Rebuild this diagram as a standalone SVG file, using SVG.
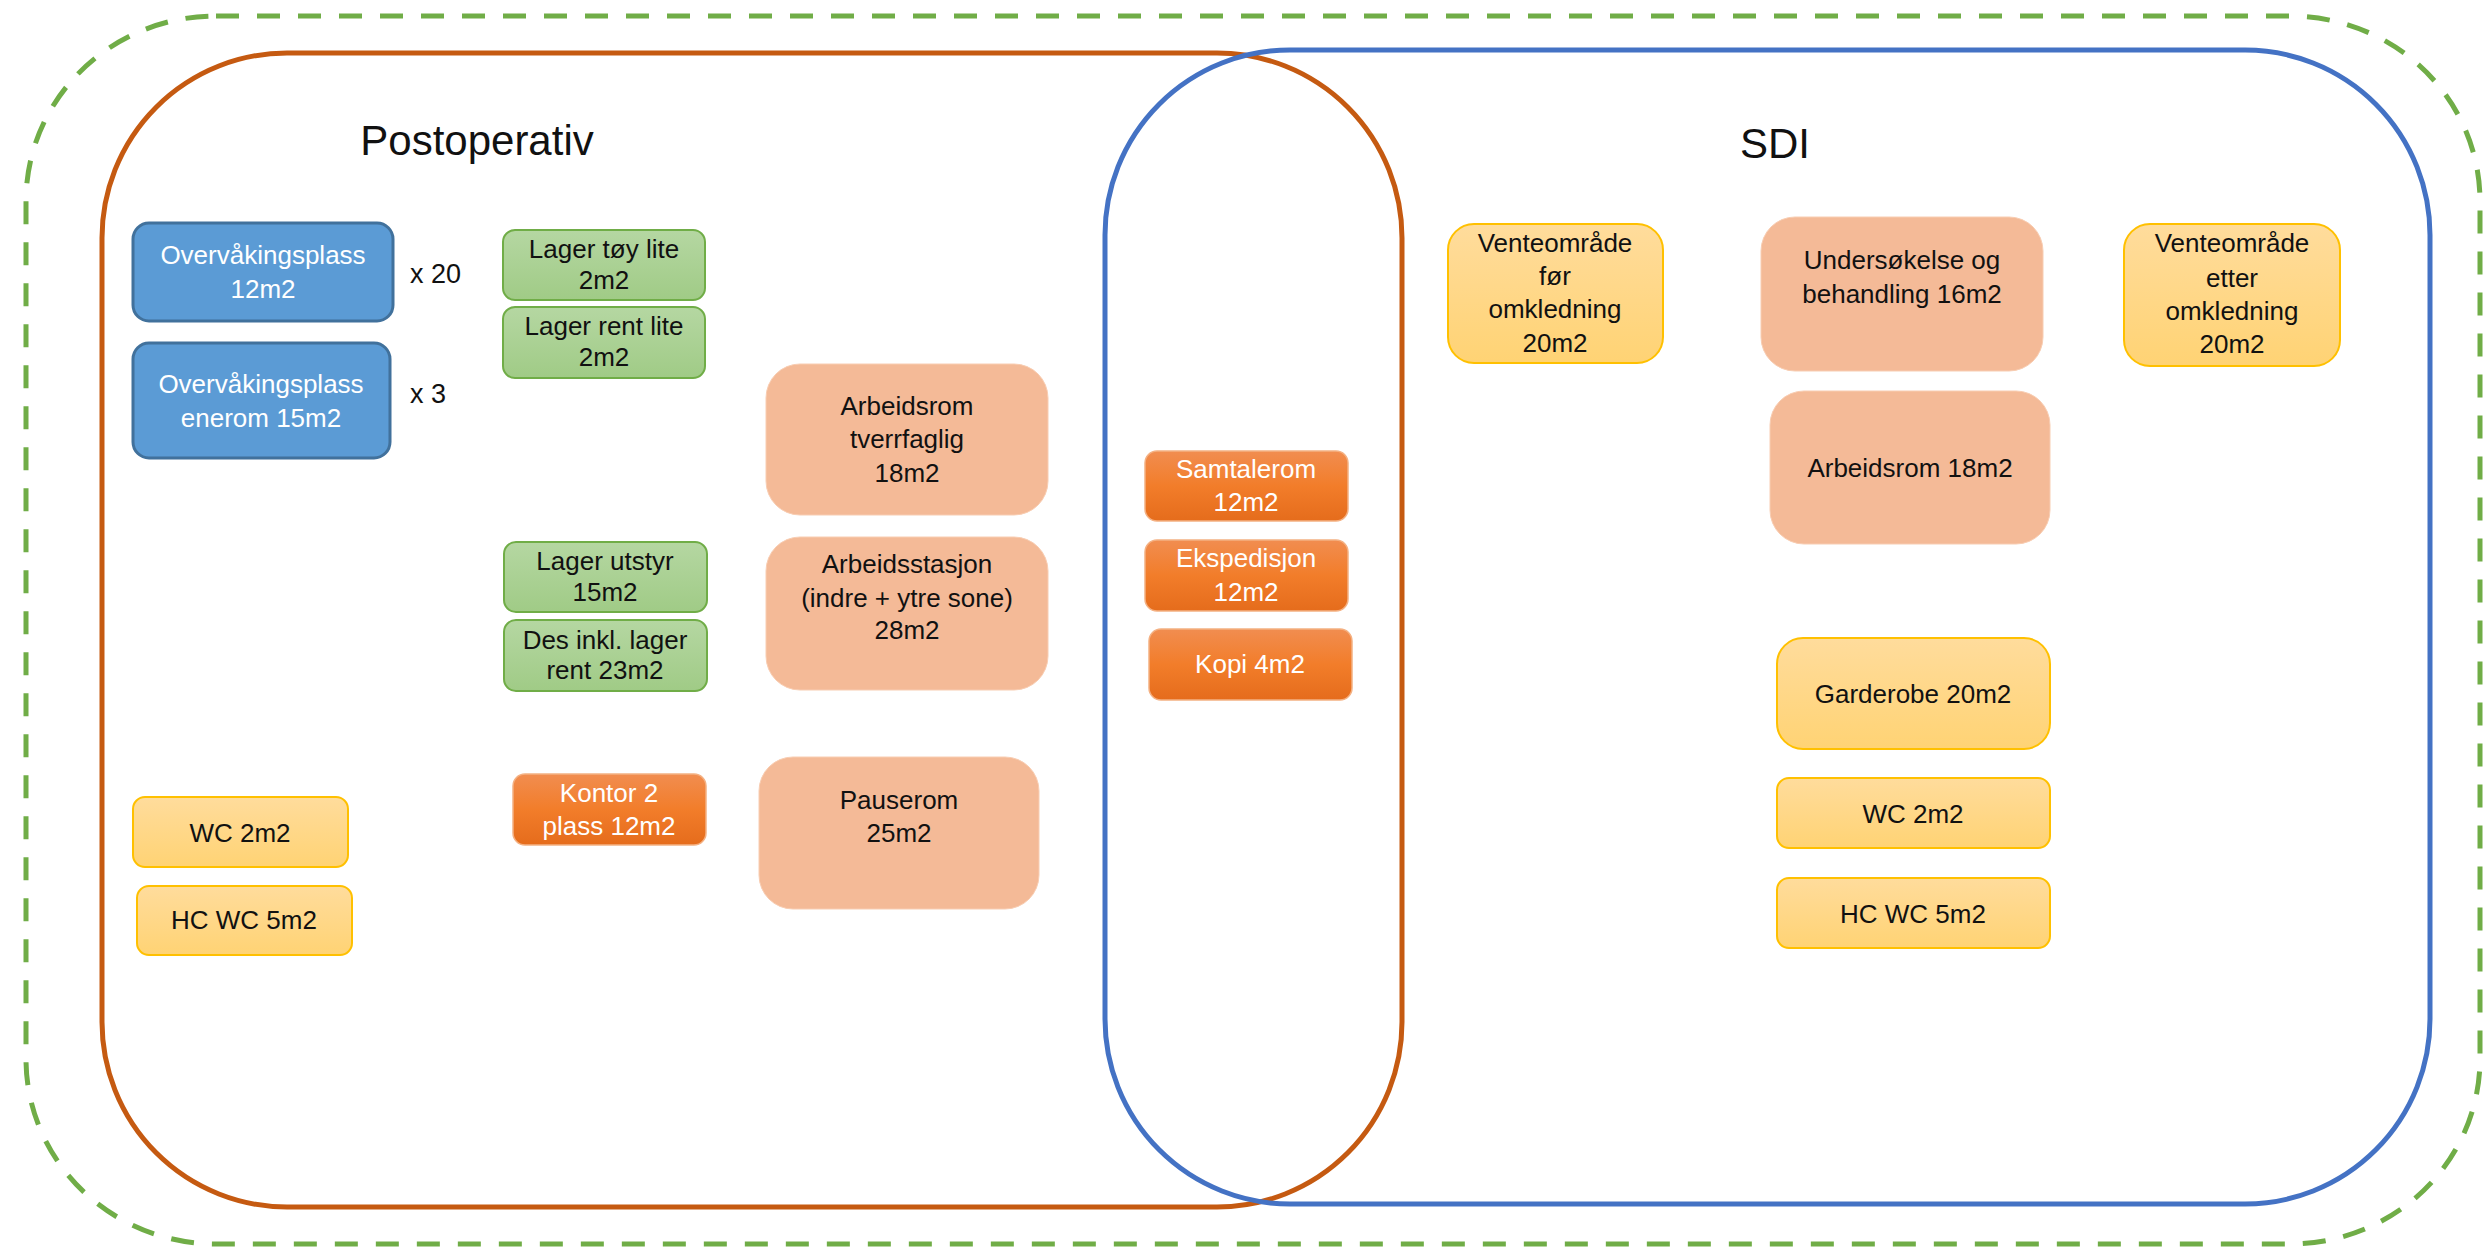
<svg xmlns="http://www.w3.org/2000/svg" width="2484" height="1247" viewBox="0 0 2484 1247">
<defs>
<linearGradient id="gYellow" x1="0" y1="0" x2="0" y2="1"><stop offset="0" stop-color="#FFDC9C"/><stop offset="1" stop-color="#FFD374"/></linearGradient>
<linearGradient id="gGreen" x1="0" y1="0" x2="0" y2="1"><stop offset="0" stop-color="#B5D7A2"/><stop offset="1" stop-color="#A0CB86"/></linearGradient>
<linearGradient id="gOrange" x1="0" y1="0" x2="0" y2="1"><stop offset="0" stop-color="#F18D50"/><stop offset="0.5" stop-color="#F27D2A"/><stop offset="1" stop-color="#E56C1C"/></linearGradient>
<style>
text{font-family:"Liberation Sans",Arial,sans-serif;font-size:26px;text-anchor:middle;fill:#111}
.title{font-size:42px}
.white{fill:#fff}
.left{text-anchor:start}
.blue{fill:#5B9BD5;stroke:#41719C;stroke-width:3}
.green{fill:url(#gGreen);stroke:#70AD47;stroke-width:2}
.yellow{fill:url(#gYellow);stroke:#FFC000;stroke-width:2}
.orange{fill:url(#gOrange);stroke:#F4B183;stroke-width:1.5}
.salmon{fill:#F4BA97;stroke:#F8CDB2;stroke-width:1}
.zone{fill:none;stroke-width:5}
</style>
</defs>
<rect width="2484" height="1247" fill="#fff"/>
<g id="zones">
<rect id="outer" class="zone" x="26" y="16" width="2454" height="1228" rx="190" ry="185" stroke="#70AD47" stroke-dasharray="23 18"/>
<rect id="postoperativ-zone" class="zone" x="102" y="53" width="1300" height="1154" rx="185" ry="185" stroke="#C55A11"/>
<rect id="sdi-zone" class="zone" x="1105" y="50" width="1325" height="1154" rx="185" ry="185" stroke="#4472C4"/>
<text class="title" x="477" y="155">Postoperativ</text>
<text class="title" x="1775" y="158">SDI</text>
</g>
<g id="connectors"></g>
<g id="n-overvak"><rect class="blue" x="133" y="223" width="260" height="98" rx="16"/><text class="white" x="263" y="264">Overvåkingsplass</text><text class="white" x="263" y="298">12m2</text></g>
<g id="n-x20"><text class="left" x="410" y="283" style="font-size:27px">x 20</text></g>
<g id="n-overvak-enerom"><rect class="blue" x="133" y="343" width="257" height="115" rx="16"/><text class="white" x="261" y="393">Overvåkingsplass</text><text class="white" x="261" y="427">enerom 15m2</text></g>
<g id="n-x3"><text class="left" x="410" y="403" style="font-size:27px">x 3</text></g>
<g id="n-lager-toy"><rect class="green" x="503" y="230" width="202" height="70" rx="12"/><text x="604" y="258">Lager tøy lite</text><text x="604" y="289">2m2</text></g>
<g id="n-lager-rent"><rect class="green" x="503" y="307" width="202" height="71" rx="12"/><text x="604" y="335">Lager rent lite</text><text x="604" y="366">2m2</text></g>
<g id="n-lager-utstyr"><rect class="green" x="504" y="542" width="203" height="70" rx="12"/><text x="605" y="570">Lager utstyr</text><text x="605" y="601">15m2</text></g>
<g id="n-des"><rect class="green" x="504" y="620" width="203" height="71" rx="12"/><text x="605" y="649">Des inkl. lager</text><text x="605" y="679">rent 23m2</text></g>
<g id="n-kontor"><rect class="orange" x="513" y="774" width="193" height="71" rx="12"/><text class="white" x="609" y="802">Kontor 2</text><text class="white" x="609" y="835">plass 12m2</text></g>
<g id="n-wc1"><rect class="yellow" x="133" y="797" width="215" height="70" rx="12"/><text x="240" y="842">WC 2m2</text></g>
<g id="n-hcwc1"><rect class="yellow" x="137" y="886" width="215" height="69" rx="12"/><text x="244" y="929">HC WC 5m2</text></g>
<g id="n-arbeidsrom-tverr"><rect class="salmon" x="766" y="364" width="282" height="151" rx="34"/><text x="907" y="415">Arbeidsrom</text><text x="907" y="448">tverrfaglig</text><text x="907" y="482">18m2</text></g>
<g id="n-arbeidsstasjon"><rect class="salmon" x="766" y="537" width="282" height="153" rx="34"/><text x="907" y="573">Arbeidsstasjon</text><text x="907" y="607">(indre + ytre sone)</text><text x="907" y="639">28m2</text></g>
<g id="n-pauserom"><rect class="salmon" x="759" y="757" width="280" height="152" rx="34"/><text x="899" y="809">Pauserom</text><text x="899" y="842">25m2</text></g>
<g id="n-samtalerom"><rect class="orange" x="1145" y="451" width="203" height="70" rx="12"/><text class="white" x="1246" y="478">Samtalerom</text><text class="white" x="1246" y="511">12m2</text></g>
<g id="n-ekspedisjon"><rect class="orange" x="1145" y="540" width="203" height="71" rx="12"/><text class="white" x="1246" y="567">Ekspedisjon</text><text class="white" x="1246" y="601">12m2</text></g>
<g id="n-kopi"><rect class="orange" x="1149" y="629" width="203" height="71" rx="12"/><text class="white" x="1250" y="673">Kopi 4m2</text></g>
<g id="n-vente-for"><rect class="yellow" x="1448" y="224" width="215" height="139" rx="26"/><text x="1555" y="252">Venteområde</text><text x="1555" y="285">før</text><text x="1555" y="318">omkledning</text><text x="1555" y="352">20m2</text></g>
<g id="n-undersokelse"><rect class="salmon" x="1761" y="217" width="282" height="154" rx="34"/><text x="1902" y="269">Undersøkelse og</text><text x="1902" y="303">behandling 16m2</text></g>
<g id="n-vente-etter"><rect class="yellow" x="2124" y="224" width="216" height="142" rx="26"/><text x="2232" y="252">Venteområde</text><text x="2232" y="287">etter</text><text x="2232" y="320">omkledning</text><text x="2232" y="353">20m2</text></g>
<g id="n-arbeidsrom-sdi"><rect class="salmon" x="1770" y="391" width="280" height="153" rx="34"/><text x="1910" y="477">Arbeidsrom 18m2</text></g>
<g id="n-garderobe"><rect class="yellow" x="1777" y="638" width="273" height="111" rx="26"/><text x="1913" y="703">Garderobe 20m2</text></g>
<g id="n-wc2"><rect class="yellow" x="1777" y="778" width="273" height="70" rx="12"/><text x="1913" y="823">WC 2m2</text></g>
<g id="n-hcwc2"><rect class="yellow" x="1777" y="878" width="273" height="70" rx="12"/><text x="1913" y="923">HC WC 5m2</text></g>
</svg>
